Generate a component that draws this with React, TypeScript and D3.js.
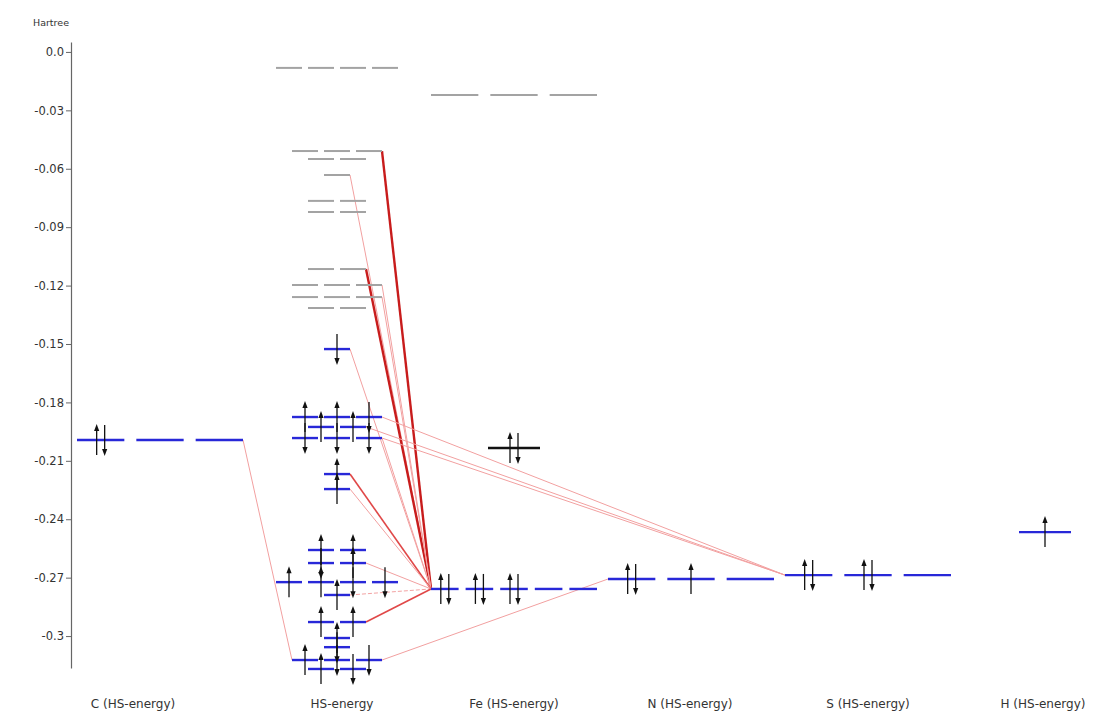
import React, { useEffect, useRef } from "react";
import * as d3 from "d3";

// ---------- data ----------
const columns = ["C (HS-energy)", "HS-energy", "Fe (HS-energy)", "N (HS-energy)", "S (HS-energy)", "H (HS-energy)"];
const yTickValues = [0, -0.03, -0.06, -0.09, -0.12, -0.15, -0.18, -0.21, -0.24, -0.27, -0.3];
const yTickLabels = ["0.0", "-0.03", "-0.06", "-0.09", "-0.12", "-0.15", "-0.18", "-0.21", "-0.24", "-0.27", "-0.3"];
const yAxisTitle = "Hartree";

// orbital codes: '0' empty, 'u' spin up, 'd' spin down, '2' paired
// kinds: 'v' virtual (grey), 'o' occupied shell (blue), 'k' black
const cEnergies = [-0.1993];
const cOrbitals = ["200"];
const cKinds = ["o"];

const hsEnergies = [
  -0.0082, -0.0509, -0.055, -0.0632, -0.0765, -0.0822, -0.1115, -0.1197, -0.1259, -0.1315,
  -0.1526, -0.1875, -0.1926, -0.1983, -0.2168, -0.2245, -0.2558, -0.2625, -0.2723, -0.2789,
  -0.2928, -0.301, -0.3057, -0.3123, -0.3169,
];
const hsOrbitals = [
  "0000", "000", "00", "0", "00", "00", "00", "000", "000", "00",
  "d", "uud", "uu", "ddd", "u", "u", "uu", "du", "uudd", "u",
  "uu", "u", "d", "udd", "ud",
];
const hsKinds = [
  "v", "v", "v", "v", "v", "v", "v", "v", "v", "v",
  "o", "o", "o", "o", "o", "o", "o", "o", "o", "o",
  "o", "o", "o", "o", "o",
];

const feEnergies = [-0.0221, -0.2034, -0.2758];
const feOrbitals = ["000", "2", "22200"];
const feKinds = ["v", "k", "o"];

const nEnergies = [-0.2707];
const nOrbitals = ["2u0"];
const nKinds = ["o"];

const sEnergies = [-0.2687];
const sOrbitals = ["220"];
const sKinds = ["o"];

const hEnergies = [-0.2466];
const hOrbitals = ["u"];
const hKinds = ["o"];

// connections: [fromColumn, fromLevel, toColumn, toLevel, strength]  (strength 0 = dashed faint)
const links: number[][] = [
  [0, 0, 1, 23, 1],
  [1, 1, 2, 2, 3],
  [1, 3, 2, 2, 1],
  [1, 6, 2, 2, 3],
  [1, 7, 2, 2, 1],
  [1, 8, 2, 2, 1],
  [1, 10, 2, 2, 1],
  [1, 11, 4, 0, 1],
  [1, 12, 4, 0, 1],
  [1, 13, 4, 0, 1],
  [1, 13, 2, 2, 1],
  [1, 14, 2, 2, 2],
  [1, 15, 2, 2, 1],
  [1, 17, 2, 2, 1],
  [1, 19, 2, 2, 0],
  [1, 20, 2, 2, 2],
  [1, 23, 3, 0, 1],
];

// ---------- layout ----------
const W = 1104;
const H = 715;
const AXIS_X = 71;
const labelDx = [-27, 5, 0, -1, 0, -2];

const colData = [
  { e: cEnergies, o: cOrbitals, k: cKinds },
  { e: hsEnergies, o: hsOrbitals, k: hsKinds },
  { e: feEnergies, o: feOrbitals, k: feKinds },
  { e: nEnergies, o: nOrbitals, k: nKinds },
  { e: sEnergies, o: sOrbitals, k: sKinds },
  { e: hEnergies, o: hOrbitals, k: hKinds },
];

const y = d3.scaleLinear().domain([0.0051, -0.3164]).range([42, 668]);
const x = d3.scaleLinear().domain([0, 5]).range([160, 1045]);

function segments(col: number, n: number) {
  const cx = x(col);
  let width: number, step: number;
  if (col === 1) {
    width = 26;
    step = 32;
  } else if (n === 1) {
    width = 52;
    step = 0;
  } else {
    const gap = n >= 5 ? 7 : 12;
    width = (166 - gap * (n - 1)) / n;
    step = width + gap;
  }
  return d3.range(n).map((i) => {
    const c = cx + (i - (n - 1) / 2) * step;
    return { c, x1: c - width / 2, x2: c + width / 2 };
  });
}

const kindColor: Record<string, string> = { v: "#a3a3a3", o: "#2828d8", k: "#111111" };
const linkStyle = [
  { stroke: "#f3a3a3", w: 1, dash: "4 2" },
  { stroke: "#f2a0a0", w: 1, dash: "" },
  { stroke: "#e04848", w: 1.6, dash: "" },
  { stroke: "#c81c1c", w: 2.4, dash: "" },
];

function Arrow({ cx, cy, up }: { cx: number; cy: number; up: boolean }) {
  const top = cy - 15;
  const bot = cy + 15;
  const head = up
    ? `${cx},${top - 1} ${cx - 2.6},${top + 6} ${cx + 2.6},${top + 6}`
    : `${cx},${bot + 1} ${cx - 2.6},${bot - 6} ${cx + 2.6},${bot - 6}`;
  return (
    <g>
      <line x1={cx} x2={cx} y1={up ? top + 5 : top} y2={up ? bot : bot - 5} stroke="#111" strokeWidth={1.3} />
      <polygon points={head} fill="#111" />
    </g>
  );
}

export default function App() {
  const axisRef = useRef<SVGGElement>(null);

  useEffect(() => {
    if (!axisRef.current) return;
    const axis = d3
      .axisLeft(y)
      .tickValues(yTickValues)
      .tickFormat((_d, i) => yTickLabels[i])
      .tickSizeInner(5)
      .tickSizeOuter(0)
      .tickPadding(2);
    const g = d3.select(axisRef.current);
    g.call(axis as any);
    g.select(".domain").attr("stroke", "#666").attr("stroke-width", 1.2);
    g.selectAll(".tick line").attr("stroke", "#666");
    g.selectAll(".tick text")
      .attr("fill", "#333")
      .style("font-family", "'DejaVu Sans', sans-serif")
      .style("font-size", "11.5px");
  }, []);

  const levelEls: React.ReactNode[] = [];
  colData.forEach((cd, col) => {
    cd.e.forEach((en, li) => {
      const orbs = cd.o[li];
      const segs = segments(col, orbs.length);
      const cy = y(en);
      segs.forEach((s, si) => {
        levelEls.push(
          <line
            key={`l-${col}-${li}-${si}`}
            x1={s.x1}
            x2={s.x2}
            y1={cy}
            y2={cy}
            stroke={kindColor[cd.k[li]]}
            strokeWidth={cd.k[li] === "v" ? 2 : 2.4}
          />
        );
      });
    });
  });

  const arrowEls: React.ReactNode[] = [];
  colData.forEach((cd, col) => {
    cd.e.forEach((en, li) => {
      const orbs = cd.o[li];
      const segs = segments(col, orbs.length);
      const cy = y(en);
      orbs.split("").forEach((ch, si) => {
        const c = segs[si].c;
        if (ch === "u") arrowEls.push(<Arrow key={`a-${col}-${li}-${si}`} cx={c} cy={cy} up={true} />);
        else if (ch === "d") arrowEls.push(<Arrow key={`a-${col}-${li}-${si}`} cx={c} cy={cy} up={false} />);
        else if (ch === "2") {
          arrowEls.push(<Arrow key={`a-${col}-${li}-${si}-u`} cx={c - 4} cy={cy} up={true} />);
          arrowEls.push(<Arrow key={`a-${col}-${li}-${si}-d`} cx={c + 4} cy={cy} up={false} />);
        }
      });
    });
  });

  const linkEls = links.map(([fc, fl, tc, tl, s], i) => {
    const fSegs = segments(fc, colData[fc].o[fl].length);
    const tSegs = segments(tc, colData[tc].o[tl].length);
    const st = linkStyle[s];
    return (
      <line
        key={`k-${i}`}
        x1={fSegs[fSegs.length - 1].x2}
        y1={y(colData[fc].e[fl])}
        x2={tSegs[0].x1}
        y2={y(colData[tc].e[tl])}
        stroke={st.stroke}
        strokeWidth={st.w}
        strokeDasharray={st.dash || undefined}
      />
    );
  });

  return (
    <svg
      width={W}
      height={H}
      style={{ position: "absolute", left: 0, top: 0, background: "#fff" }}
      fontFamily="'DejaVu Sans', sans-serif"
    >
      <rect x={0} y={0} width={W} height={H} fill="#fff" />
      <text x={33} y={26} fontSize={9.5} fill="#333">
        {yAxisTitle}
      </text>
      <g ref={axisRef} transform={`translate(${AXIS_X},0)`} />
      <g>{linkEls}</g>
      <g>{levelEls}</g>
      <g>{arrowEls}</g>
      {columns.map((c, i) => (
        <text key={c} x={x(i) + labelDx[i]} y={708} fontSize={12} fill="#333" textAnchor="middle">
          {c}
        </text>
      ))}
    </svg>
  );
}
